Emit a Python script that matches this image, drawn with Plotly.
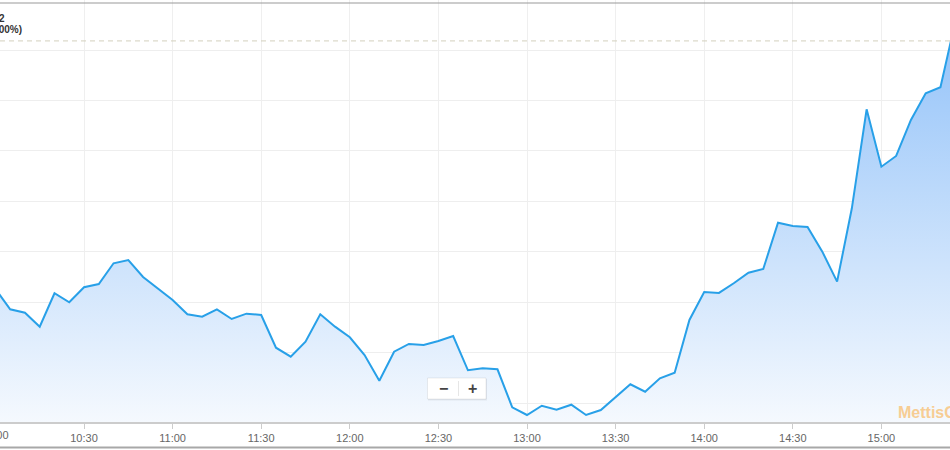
import plotly.graph_objects as go

# ---- data ----
day = "2024-01-15"
times = ["10:00", "10:05", "10:10", "10:15", "10:20", "10:25", "10:30", "10:35", "10:40", "10:45",
         "10:50", "10:55", "11:00", "11:05", "11:10", "11:15", "11:20", "11:25", "11:30", "11:35",
         "11:40", "11:45", "11:50", "11:55", "12:00", "12:05", "12:10", "12:15", "12:20", "12:25",
         "12:30", "12:35", "12:40", "12:45", "12:50", "12:55", "13:00", "13:05", "13:10", "13:15",
         "13:20", "13:25", "13:30", "13:35", "13:40", "13:45", "13:50", "13:55", "14:00", "14:05",
         "14:10", "14:15", "14:20", "14:25", "14:30", "14:35", "14:40", "14:45", "14:50", "14:55",
         "15:00", "15:05", "15:10", "15:15", "15:20", "15:25"]
values = [41226.2, 41185.9, 41179.2, 41151.4, 41217.7, 41199.8, 41229.6, 41236.1, 41277.2, 41283.7,
          41250.0, 41227.6, 41204.4, 41176.0, 41171.2, 41185.9, 41166.7, 41177.2, 41174.6, 41109.7,
          41091.9, 41121.6, 41176.0, 41151.4, 41130.4, 41095.2, 41044.2, 41101.8, 41117.1, 41115.1,
          41123.0, 41132.9, 41064.9, 41068.8, 41066.9, 40991.5, 40976.2, 40994.6, 40986.7, 40996.6,
          40976.2, 40986.1, 41010.9, 41037.1, 41022.4, 41049.0, 41060.1, 41164.7, 41220.2, 41218.3,
          41237.5, 41258.5, 41265.9, 41357.7, 41351.2, 41349.2, 41300.2, 41240.7, 41386.3, 41582.7,
          41468.8, 41490.1, 41561.5, 41614.5, 41626.4, 41756.0]
prev_close = 41718.32
prev_label = "41,718.32"
prev_change = "(0.00%)"
tick_labels = ["10:30", "11:00", "11:30", "12:00", "12:30", "13:00", "13:30", "14:00", "14:30", "15:00"]
hidden_first_tick = "10:00"
watermark = "MettisGlobal"

# ---- geometry helpers ----
W, H = 950, 450
M_B = 28
PH = H - M_B  # plot height in px


def px(xp):
    return xp / W


def py(yp):
    return (PH - yp) / PH


x = [f"{day} {t}" for t in times]
y_min, y_max = 40962.3, 41799.5

fig = go.Figure()
fig.add_trace(go.Scatter(
    x=x, y=values, mode="lines",
    line=dict(color="#28a0e8", width=2),
    fill="tozeroy",
    fillgradient=dict(type="vertical",
                      colorscale=[[0, "rgb(245,249,254)"], [1, "rgb(148,195,249)"]],
                      start=y_min, stop=41740),
    hoverinfo="skip",
))

shapes = [
    # previous close dashed line
    dict(type="line", xref="paper", x0=0, x1=1, yref="y", y0=prev_close, y1=prev_close,
         line=dict(color="#d4d0bd", width=1, dash="5px,4px")),
    # top border
    dict(type="line", xref="paper", x0=0, x1=1, yref="paper", y0=py(3), y1=py(3),
         line=dict(color="#9a9a9a", width=1.2)),
    # bottom border
    dict(type="line", xref="paper", x0=0, x1=1, yref="paper", y0=py(447.5), y1=py(447.5),
         line=dict(color="#a8a8a8", width=2)),
    # zoom control shadow + box + divider
    dict(type="rect", xref="paper", yref="paper", x0=px(428), x1=px(487), y0=py(400.5), y1=py(379),
         fillcolor="rgba(0,0,0,0.06)", line=dict(width=0), layer="above"),
    dict(type="rect", xref="paper", yref="paper", x0=px(427.5), x1=px(486), y0=py(399), y1=py(378),
         fillcolor="white", line=dict(color="rgba(0,0,0,0.07)", width=1), layer="above"),
    dict(type="line", xref="paper", yref="paper", x0=px(458.5), x1=px(458.5), y0=py(396), y1=py(381),
         line=dict(color="#e6e6e6", width=1), layer="above"),
]

annotations = [
    dict(text=f"<b>{prev_label}</b>", xref="paper", yref="paper", x=px(7), y=py(18.5), xanchor="right",
         yanchor="middle", showarrow=False, font=dict(size=10, color="#333", family="Arial")),
    dict(text=f"<b>{prev_change}</b>", xref="paper", yref="paper", x=px(24), y=py(29.5), xanchor="right",
         yanchor="middle", showarrow=False, font=dict(size=10, color="#333", family="Arial")),
    dict(text=hidden_first_tick, xref="paper", yref="paper", x=px(-4.6), y=py(435), xanchor="center",
         yanchor="middle", showarrow=False, font=dict(size=11, color="#666", family="Arial")),
    dict(text="<b>−</b>", xref="paper", yref="paper", x=px(443), y=py(388), xanchor="center",
         yanchor="middle", showarrow=False, font=dict(size=16, color="#444", family="Arial")),
    dict(text="<b>+</b>", xref="paper", yref="paper", x=px(472), y=py(388), xanchor="center",
         yanchor="middle", showarrow=False, font=dict(size=16, color="#444", family="Arial")),
    dict(text=f"<b>{watermark}</b>", xref="paper", yref="paper", x=px(896), y=py(412.5),
         xanchor="left", yanchor="middle", showarrow=False,
         font=dict(size=16, color="#f7cd94", family="Arial")),
]

fig.update_layout(
    width=W, height=H,
    margin=dict(l=0, r=0, t=0, b=M_B, pad=0),
    paper_bgcolor="white", plot_bgcolor="white",
    showlegend=False,
    shapes=shapes,
    annotations=annotations,
    xaxis=dict(
        range=[f"{day} 10:01:33", f"{day} 15:23:14"],
        tickvals=[f"{day} {t}" for t in tick_labels],
        ticktext=tick_labels,
        showgrid=True, gridcolor="#efefef", gridwidth=1,
        showline=True, linecolor="#cccccc", linewidth=1.5,
        ticks="outside", ticklen=5, tickcolor="#cccccc",
        tickfont=dict(size=11, color="#666", family="Arial"),
        zeroline=False, fixedrange=True,
    ),
    yaxis=dict(
        range=[y_min, y_max],
        tick0=41000, dtick=100,
        showticklabels=False,
        showgrid=True, gridcolor="#eeeeee", gridwidth=1,
        zeroline=False, showline=False, ticks="",
        fixedrange=True,
    ),
)

fig.write_html("out.html", config={"displayModeBar": False},
               post_script="document.body.style.margin='0';")
